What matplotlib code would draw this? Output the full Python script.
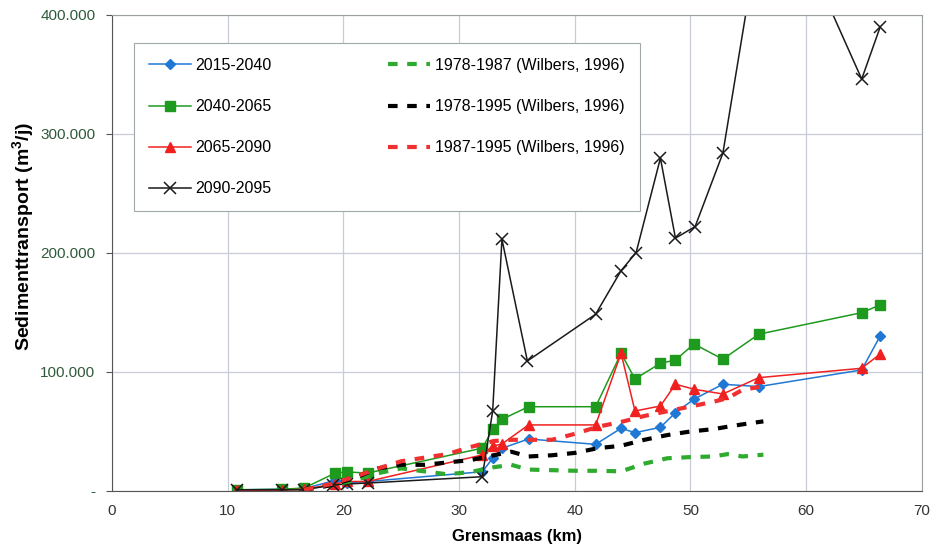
import matplotlib
matplotlib.use("Agg")
from matplotlib import pyplot as plt
from matplotlib.ticker import FuncFormatter, MultipleLocator

plt.rcParams['font.family'] = ['Liberation Sans', 'DejaVu Sans']
plt.rcParams['mathtext.default'] = 'regular'

# km positions of the model results
km = [10.8, 14.7, 16.6, 19.3, 20.3, 22.1, 32.0, 32.9, 33.7, 36.0, 41.8, 44.0,
      45.2, 47.4, 48.7, 50.3, 52.8, 55.9, 64.8, 66.4]

s2015 = [1000, 1500, 2000, 9000, 7000, 8000, 16200, 27500, 35900, 43700, 39200, 52700,
         49000, 53500, 65800, 77100, 89700, 87700, 101700, 130300]
s2040 = [1000, 1500, 2500, 15100, 16000, 15100, 36000, 51800, 60200, 70800, 70800, 115700,
         94100, 107300, 110000, 123500, 110700, 131700, 149800, 156300]
s2065 = [500, 800, 1500, 6000, 8000, 8000, 30300, 37800, 39500, 55500, 55500, 115700,
         67200, 71400, 89700, 85500, 81500, 95200, 103100, 115100]

# 2090-2095 runs off the top of the chart between 52.8 and 64.8 km
km_2090 = [10.8, 14.7, 16.6, 19.1, 20.3, 22.1, 32.0, 32.9, 33.7, 35.9, 41.8, 44.0,
           45.3, 47.4, 48.7, 50.4, 52.8, 56.8, 64.8, 66.4]
s2090 = [1000, 1000, 1000, 5000, 5900, 6700, 12000, 67200, 211500, 109200, 148500, 185100,
         200300, 279600, 212400, 222100, 283800, 520000, 346000, 389900]

# Wilbers (1996)
km_w = [16.6, 19, 21, 23, 25, 27, 29, 31, 33, 34.5, 36, 38, 40, 42, 44, 46, 48, 50,
        52, 53.2, 54.5, 56.3]
w7887 = [1000, 5000, 9000, 15000, 19000, 16500, 14000, 16000, 20000, 22000, 18000, 17500,
         17000, 17000, 16500, 23000, 27500, 28500, 29000, 31000, 29000, 30500]
w7895 = [1000, 5000, 11000, 19000, 22000, 22000, 24000, 26000, 30000, 33000, 29000, 30000,
         32000, 36000, 38000, 43000, 47000, 50000, 52000, 54000, 56000, 58500]
w8795 = [1000, 6000, 12000, 19000, 25000, 28000, 31000, 37000, 42000, 43000, 43000, 43000,
         48000, 54000, 58000, 63000, 67000, 71000, 75000, 78000, 85000, 88000]

blue = '#1f78d4'
green = '#1e9a1e'
red = '#f02020'
black = '#1a1a1a'

fig = plt.figure(figsize=(9.34, 5.48), dpi=100)
ax = fig.add_axes([0.12, 0.104, 0.867, 0.869])

ax.plot(km, s2015, color=blue, lw=1.1, marker='D', ms=5, label='2015-2040')
ax.plot(km, s2040, color=green, lw=1.1, marker='s', ms=7, label='2040-2065')
ax.plot(km, s2065, color=red, lw=1.1, marker='^', ms=7, label='2065-2090')
ax.plot(km_2090, s2090, color=black, lw=1.1, marker='x', ms=8, mew=1.1, label='2090-2095')

ax.plot(km_w, w7887, color='#2eaa2e', lw=3, dashes=(2.3, 2.3), label='1978-1987 (Wilbers, 1996)')
ax.plot(km_w, w7895, color='black', lw=3, dashes=(2.3, 2.3), label='1978-1995 (Wilbers, 1996)')
ax.plot(km_w, w8795, color='#f03030', lw=3, dashes=(2.3, 2.3), label='1987-1995 (Wilbers, 1996)')

ax.set_xlim(0, 70)
ax.set_ylim(0, 400000)
ax.xaxis.set_major_locator(MultipleLocator(10))
ax.yaxis.set_major_locator(MultipleLocator(100000))
ax.yaxis.set_major_formatter(FuncFormatter(
    lambda v, p: '-' if v == 0 else f'{int(v):,}'.replace(',', '.')))
ax.grid(True, color='#c8ccd8', lw=0.9)
ax.set_axisbelow(True)

for side in ['top', 'right']:
    ax.spines[side].set_color('#9aa0a0')
for side in ['left', 'bottom']:
    ax.spines[side].set_color('#555555')

ax.tick_params(axis='y', labelsize=11, labelcolor='#2f5a3a', length=4, color='#555555', pad=8)
ax.tick_params(axis='x', labelsize=11, labelcolor='#333333', length=0, pad=9)

ax.set_xlabel('Grensmaas (km)', fontsize=12, fontweight='bold', labelpad=8)
ax.set_ylabel('Sedimenttransport (m$^3$/j)', fontsize=14, fontweight='bold')
ax.yaxis.set_label_coords(-0.094, 0.534)

leg = ax.legend(ncol=2, loc='upper left', bbox_to_anchor=(0.027, 0.941), borderaxespad=0,
                fontsize=11.5, frameon=True, fancybox=False, edgecolor='#a0a8a8',
                framealpha=1, handlelength=2.6, handletextpad=0.3, labelspacing=1.63,
                columnspacing=7.3, borderpad=0.95)
leg.get_frame().set_linewidth(0.8)

fig.savefig('out.png', dpi=100)
